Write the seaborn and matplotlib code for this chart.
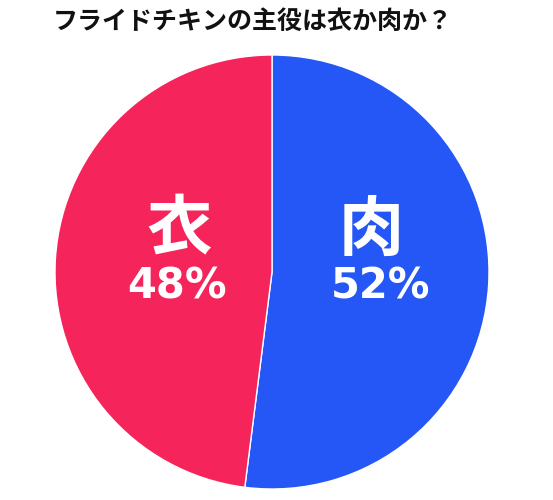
import matplotlib.pyplot as plt
import seaborn as sns

sns.set_theme(style='white')
plt.rcParams['font.family'] = ['Noto Sans CJK JP', 'DejaVu Sans']

# data
labels = ['肉', '衣']
values = [52, 48]
colors = ['#2457F5', '#F5245A']
title = 'フライドチキンの主役は衣か肉か？'

fig = plt.figure(figsize=(5.53, 5.0), dpi=100)
# pie centre ~ (272, 272) px, radius ~ 217 px
ax = fig.add_axes([(272 - 217) / 553, 1 - (272 + 217) / 500, 434 / 553, 434 / 500])

wedges, _ = ax.pie(
  values,
  colors=colors,
  startangle=90,
  counterclock=False,
  radius=1.0,
  wedgeprops=dict(edgecolor='white', linewidth=1),
)
ax.set_xlim(-1, 1)
ax.set_ylim(-1, 1)
ax.set_aspect('auto')
ax.axis('off')

# label placement inside each slice (肉, 衣)
name_x = [0.456, -0.429]
pct_x = [0.498, -0.436]
for lab, v, nx, px in zip(labels, values, name_x, pct_x):
  ax.text(nx, 0.194, lab, ha='center', va='center', color='white',
          fontsize=47, fontweight='bold')
  ax.text(px, -0.124, f'{v}%', ha='center', va='baseline', color='white',
          fontsize=30, fontweight='bold', family='DejaVu Sans')

fig.text(53 / 553, 1 - 22 / 500, title, ha='left', va='center',
         fontsize=18, fontweight='bold', color='#111111')

fig.savefig('out.png', dpi=100)
